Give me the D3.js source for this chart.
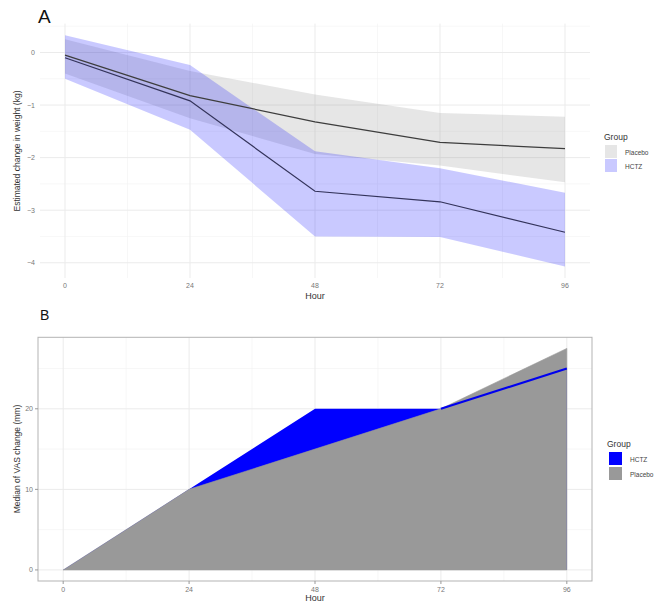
<html>
<head>
    <style>
        body { margin: 0; background: #fff; }
        text { font-family: "Liberation Sans", Arial, sans-serif; }
    </style>
    <script src="https://cdn.jsdelivr.net/npm/d3@7"></script>
</head>
<body>
    <svg id="container" width="657" height="604"></svg>
</body>
<script>
    // shared x ticks
    let hours = [0, 24, 48, 72, 96]

    // panel A: estimated change in weight (kg)
    let placeboMean = [-0.05, -0.82, -1.32, -1.71, -1.83]
    let placeboLow  = [-0.4, -1.25, -1.93, -2.15, -2.47]
    let placeboHigh = [0.25, -0.35, -0.8, -1.15, -1.22]
    let hctzMean = [-0.1, -0.92, -2.64, -2.84, -3.42]
    let hctzLow  = [-0.5, -1.47, -3.5, -3.51, -4.07]
    let hctzHigh = [0.33, -0.24, -1.88, -2.2, -2.67]
    let yTicksA = [0, -1, -2, -3, -4]

    // panel B: median of VAS change (mm)
    let vasHctz = [0, 10, 20, 20, 25]
    let vasPlacebo = [0, 10, 15, 20, 27.5]
    let yTicksB = [0, 10, 20]

    let svg = d3.select("#container")

    let rowsA = hours.map((h, i) => ({
        hour: h,
        pMean: placeboMean[i], pLow: placeboLow[i], pHigh: placeboHigh[i],
        hMean: hctzMean[i], hLow: hctzLow[i], hHigh: hctzHigh[i]
    }))
    let rowsB = hours.map((h, i) => ({ hour: h, hctz: vasHctz[i], placebo: vasPlacebo[i] }))

    // ---------- panel A ----------
    let xA = d3.scaleLinear().domain([-4.8, 100.8]).range([40, 590])
    let yA = d3.scaleLinear().domain([0.55, -4.29]).range([23.6, 278])

    let gA = svg.append("g")
    let minorX = [12, 36, 60, 84]
    let minorYA = [0.5, -0.5, -1.5, -2.5, -3.5]
    gA.selectAll(".mx").data(minorX).enter().append("line")
        .attr("x1", d => xA(d)).attr("x2", d => xA(d))
        .attr("y1", yA.range()[0]).attr("y2", yA.range()[1])
        .attr("stroke", "#f2f2f2").attr("stroke-width", 0.6)
    gA.selectAll(".my").data(minorYA).enter().append("line")
        .attr("x1", 40).attr("x2", 590)
        .attr("y1", d => yA(d)).attr("y2", d => yA(d))
        .attr("stroke", "#f2f2f2").attr("stroke-width", 0.6)
    gA.selectAll(".gx").data(hours).enter().append("line")
        .attr("x1", d => xA(d)).attr("x2", d => xA(d))
        .attr("y1", yA.range()[0]).attr("y2", yA.range()[1])
        .attr("stroke", "#ebebeb").attr("stroke-width", 1)
    gA.selectAll(".gy").data(yTicksA).enter().append("line")
        .attr("x1", 40).attr("x2", 590)
        .attr("y1", d => yA(d)).attr("y2", d => yA(d))
        .attr("stroke", "#ebebeb").attr("stroke-width", 1)

    let ribbon = (lo, hi) => d3.area().x(d => xA(d.hour)).y0(d => yA(d[lo])).y1(d => yA(d[hi]))
    gA.append("path").datum(rowsA).attr("d", ribbon("pLow", "pHigh"))
        .attr("fill", "#808080").attr("fill-opacity", 0.2)
    gA.append("path").datum(rowsA).attr("d", ribbon("hLow", "hHigh"))
        .attr("fill", "#0000ff").attr("fill-opacity", 0.21)

    let lineA = key => d3.line().x(d => xA(d.hour)).y(d => yA(d[key]))
    gA.append("path").datum(rowsA).attr("d", lineA("pMean"))
        .attr("fill", "none").attr("stroke", "#3d3d3d").attr("stroke-width", 1.2)
    gA.append("path").datum(rowsA).attr("d", lineA("hMean"))
        .attr("fill", "none").attr("stroke", "#33335a").attr("stroke-width", 1.2)

    gA.selectAll(".tx").data(hours).enter().append("text")
        .attr("x", d => xA(d)).attr("y", 288)
        .attr("text-anchor", "middle").attr("font-size", 7).attr("fill", "#777")
        .text(d => d)
    gA.selectAll(".ty").data(yTicksA).enter().append("text")
        .attr("x", 35).attr("y", d => yA(d) + 2.5)
        .attr("text-anchor", "end").attr("font-size", 7).attr("fill", "#777")
        .text(d => d == 0 ? "0" : "\u2212" + Math.abs(d))
    gA.append("text").attr("x", 315).attr("y", 299).attr("text-anchor", "middle")
        .attr("font-size", 9).attr("fill", "#333").text("Hour")
    gA.append("text").attr("transform", "translate(20,151) rotate(-90)")
        .attr("text-anchor", "middle").attr("font-size", 8.5).attr("fill", "#333")
        .text("Estimated change in weight (kg)")
    gA.append("text").attr("x", 38).attr("y", 23).attr("font-size", 19).attr("fill", "#111").text("A")

    // legend A
    let legA = svg.append("g").attr("transform", "translate(604,0)")
    legA.append("text").attr("x", 0).attr("y", 140).attr("font-size", 8.5).attr("fill", "#333").text("Group")
    let keysA = [["Placebo", "#808080", 0.2], ["HCTZ", "#0000ff", 0.21]]
    keysA.forEach((k, i) => {
        legA.append("rect").attr("x", 1).attr("y", 145 + i * 14).attr("width", 12).attr("height", 13)
            .attr("fill", k[1]).attr("fill-opacity", k[2])
        legA.append("text").attr("x", 21).attr("y", 154.5 + i * 14).attr("font-size", 6.5)
            .attr("fill", "#444").text(k[0])
    })

    // ---------- panel B ----------
    let xB = d3.scaleLinear().domain([-4.8, 100.8]).range([38, 592])
    let yB = d3.scaleLinear().domain([28.875, -1.375]).range([337.3, 581])

    let gB = svg.append("g")
    gB.selectAll(".mx").data(minorX).enter().append("line")
        .attr("x1", d => xB(d)).attr("x2", d => xB(d))
        .attr("y1", yB.range()[0]).attr("y2", yB.range()[1])
        .attr("stroke", "#f2f2f2").attr("stroke-width", 0.6)
    gB.selectAll(".my").data([5, 15, 25]).enter().append("line")
        .attr("x1", 38).attr("x2", 592)
        .attr("y1", d => yB(d)).attr("y2", d => yB(d))
        .attr("stroke", "#f2f2f2").attr("stroke-width", 0.6)
    gB.selectAll(".gx").data(hours).enter().append("line")
        .attr("x1", d => xB(d)).attr("x2", d => xB(d))
        .attr("y1", yB.range()[0]).attr("y2", yB.range()[1])
        .attr("stroke", "#ebebeb").attr("stroke-width", 1)
    gB.selectAll(".gy").data(yTicksB).enter().append("line")
        .attr("x1", 38).attr("x2", 592)
        .attr("y1", d => yB(d)).attr("y2", d => yB(d))
        .attr("stroke", "#ebebeb").attr("stroke-width", 1)

    let areaB = key => d3.area().x(d => xB(d.hour)).y0(yB(0)).y1(d => yB(d[key]))
    gB.append("path").datum(rowsB).attr("d", areaB("hctz")).attr("fill", "#0000ff")
    gB.append("path").datum(rowsB).attr("d", areaB("placebo")).attr("fill", "#999999")
        .attr("stroke", "#999999").attr("stroke-width", 0.6)
    gB.append("path").datum(rowsB.filter(d => d.hour >= 72))
        .attr("d", d3.line().x(d => xB(d.hour)).y(d => yB(d.hctz)))
        .attr("fill", "none").attr("stroke", "#0000ee").attr("stroke-width", 2.2)

    gB.append("rect").attr("x", 38).attr("y", 337.3).attr("width", 554).attr("height", 581 - 337.3)
        .attr("fill", "none").attr("stroke", "#b3b3b3").attr("stroke-width", 1)

    gB.selectAll(".kx").data(hours).enter().append("line")
        .attr("x1", d => xB(d)).attr("x2", d => xB(d)).attr("y1", 581).attr("y2", 584)
        .attr("stroke", "#999")
    gB.selectAll(".ky").data(yTicksB).enter().append("line")
        .attr("x1", 35).attr("x2", 38).attr("y1", d => yB(d)).attr("y2", d => yB(d))
        .attr("stroke", "#999")
    gB.selectAll(".tx").data(hours).enter().append("text")
        .attr("x", d => xB(d)).attr("y", 592)
        .attr("text-anchor", "middle").attr("font-size", 7).attr("fill", "#777")
        .text(d => d)
    gB.selectAll(".ty").data(yTicksB).enter().append("text")
        .attr("x", 33).attr("y", d => yB(d) + 2.5)
        .attr("text-anchor", "end").attr("font-size", 7).attr("fill", "#777")
        .text(d => d)
    gB.append("text").attr("x", 315).attr("y", 601).attr("text-anchor", "middle")
        .attr("font-size", 9).attr("fill", "#333").text("Hour")
    gB.append("text").attr("transform", "translate(20,459) rotate(-90)")
        .attr("text-anchor", "middle").attr("font-size", 8.5).attr("fill", "#333")
        .text("Median of VAS change (mm)")
    gB.append("text").attr("x", 40).attr("y", 320).attr("font-size", 14).attr("fill", "#111").text("B")

    // legend B
    let legB = svg.append("g").attr("transform", "translate(607,0)")
    legB.append("text").attr("x", 0).attr("y", 447).attr("font-size", 8.5).attr("fill", "#333").text("Group")
    let keysB = [["HCTZ", "#0000ff"], ["Placebo", "#999999"]]
    keysB.forEach((k, i) => {
        legB.append("rect").attr("x", 2).attr("y", 452 + i * 15).attr("width", 13).attr("height", 13)
            .attr("fill", k[1])
        legB.append("text").attr("x", 23).attr("y", 461.5 + i * 15).attr("font-size", 6.5)
            .attr("fill", "#444").text(k[0])
    })
</script>
</html>
